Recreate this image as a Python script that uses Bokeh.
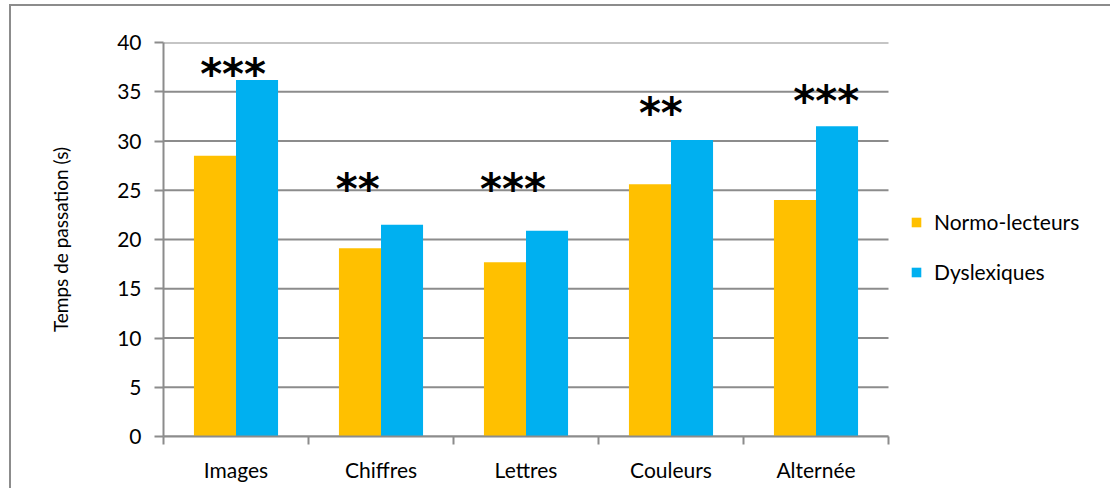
from bokeh.plotting import figure
from bokeh.models import (Range1d, FixedTicker, Legend, LegendItem,
                          ColumnDataSource, InlineStyleSheet)
from bokeh.core.properties import value
from bokeh.transform import dodge
from bokeh.embed import file_html
from bokeh.resources import INLINE

# ---- data ----
categories = ["Images", "Chiffres", "Lettres", "Couleurs", "Alternée"]
normo_lecteurs = [28.5, 19.1, 17.7, 25.6, 24.0]
dyslexiques = [36.2, 21.5, 20.9, 30.1, 31.5]
significance = ["***", "**", "***", "**", "***"]
y_ticks = [0, 5, 10, 15, 20, 25, 30, 35, 40]

# annotation placement (stars)
star_x = [0.48, 1.34, 2.41, 3.43, 4.57]
star_y = [37.4, 25.7, 25.7, 33.4, 34.6]

ORANGE = "#FFC000"
BLUE = "#00B0F0"
GRID = "#8c8c8c"
FONT = "Lato"

n = len(categories)
centers = [i + 0.5 for i in range(n)]
src = ColumnDataSource(dict(x=centers, normo=normo_lecteurs, dys=dyslexiques))
star_src = ColumnDataSource(dict(x=star_x, y=star_y, t=significance))
grid_src = ColumnDataSource(dict(x0=[0] * len(y_ticks), x1=[n] * len(y_ticks), y=y_ticks))

# layout: frame spans from x=163 to x=1108; the category area is 145 px per category
FRAME_LEFT, FRAME_RIGHT, PX_PER_CAT = 163, 1108, 145
x_end = (FRAME_RIGHT - FRAME_LEFT) / PX_PER_CAT

p = figure(width=1110, height=488, output_backend="svg", toolbar_location=None,
           x_range=Range1d(0, x_end), y_range=Range1d(0, 40),
           min_border_left=FRAME_LEFT, min_border_right=1110 - FRAME_RIGHT,
           min_border_top=42, min_border_bottom=52)
p.outline_line_color = None
p.background_fill_color = "white"
p.border_fill_color = "white"
p.stylesheets = [InlineStyleSheet(css="""
:host::after {
  content: '';
  position: absolute;
  left: 9px; top: 4px; right: 0px; bottom: 0px;
  border-left: 2px solid #8c8c8c;
  border-top: 2px solid #8c8c8c;
  pointer-events: none;
}
""")]

# horizontal gridlines limited to the category area
p.segment(x0="x0", x1="x1", y0="y", y1="y", source=grid_src,
          line_color=GRID, line_width=2)

bw = 0.29
r1 = p.vbar(x=dodge("x", -bw / 2), top="normo", width=bw, source=src,
            fill_color=ORANGE, line_color=None)
r2 = p.vbar(x=dodge("x", bw / 2), top="dys", width=bw, source=src,
            fill_color=BLUE, line_color=None)

p.text(x="x", y="y", text="t", source=star_src, text_align="center",
       text_baseline="alphabetic", y_offset=6,
       text_font=value("DejaVu Sans"), text_font_style="bold",
       text_font_size="42px", text_color="black")

# x axis
xa = p.xaxis[0]
xa.bounds = (0, n)
xa.ticker = FixedTicker(ticks=centers, minor_ticks=list(range(n + 1)))
xa.major_label_overrides = {c: lab for c, lab in zip(centers, categories)}
xa.major_tick_out = 0
xa.major_tick_in = 0
xa.minor_tick_out = 8
xa.minor_tick_in = 0
xa.minor_tick_line_color = GRID
xa.minor_tick_line_width = 2
xa.axis_line_color = GRID
xa.axis_line_width = 2
xa.major_label_standoff = 12
xa.major_label_text_font = FONT
xa.major_label_text_font_size = "21px"
xa.major_label_text_color = "black"

# y axis
ya = p.yaxis[0]
ya.ticker = FixedTicker(ticks=y_ticks)
ya.minor_tick_line_color = None
ya.major_tick_out = 9
ya.major_tick_in = 0
ya.major_tick_line_color = GRID
ya.major_tick_line_width = 2
ya.axis_line_color = GRID
ya.axis_line_width = 2
ya.major_label_standoff = 13
ya.major_label_text_font = FONT
ya.major_label_text_font_size = "21px"
ya.major_label_text_color = "black"
ya.axis_label = "Temps de passation (s)"
ya.axis_label_text_font = FONT
ya.axis_label_text_font_size = "19px"
ya.axis_label_text_font_style = "normal"
ya.axis_label_text_color = "black"
ya.axis_label_standoff = 42

p.xgrid.grid_line_color = None
p.ygrid.grid_line_color = None

legend = Legend(items=[LegendItem(label="Normo-lecteurs", renderers=[r1]),
                       LegendItem(label="Dyslexiques", renderers=[r2])],
                location=(747, 152), glyph_width=12, glyph_height=12,
                label_standoff=12, spacing=25, padding=0, margin=0,
                label_height=20,
                border_line_color=None, background_fill_alpha=0,
                label_text_font=FONT, label_text_font_size="21px",
                label_text_color="black")
p.add_layout(legend)

open("out.html", "w").write(file_html(p, INLINE))
